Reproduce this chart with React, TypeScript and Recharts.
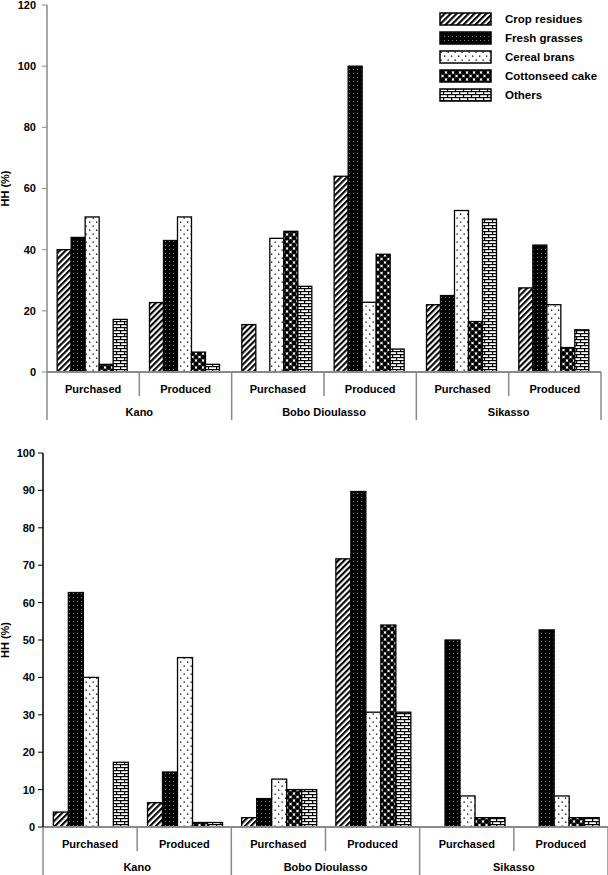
import React from "react";
import { Bar, BarChart, Legend, XAxis, YAxis } from "recharts";

const categories = ["Purchased", "Produced", "Purchased", "Produced", "Purchased", "Produced"];
const cities = ["Kano", "Bobo Dioulasso", "Sikasso"];
const seriesNames = ["Crop residues", "Fresh grasses", "Cereal brans", "Cottonseed cake", "Others"];

// upper panel
const cropTop = [40, 22.7, 15.5, 64, 22, 27.5];
const freshTop = [44, 43, 0, 100, 25, 41.5];
const cerealTop = [50.7, 50.7, 43.7, 22.8, 52.8, 22];
const cottonTop = [2.5, 6.5, 46, 38.5, 16.5, 8];
const othersTop = [17.2, 2.5, 28, 7.5, 50, 13.8];
const ticksTop = [0, 20, 40, 60, 80, 100, 120];

// lower panel
const cropBot = [4, 6.5, 2.5, 71.7, 0, 0];
const freshBot = [62.7, 14.7, 7.6, 89.7, 50, 52.7];
const cerealBot = [40, 45.3, 12.8, 30.7, 8.3, 8.3];
const cottonBot = [0, 1.2, 10, 54, 2.5, 2.5];
const othersBot = [17.3, 1.2, 10, 30.7, 2.5, 2.5];
const ticksBot = [0, 10, 20, 30, 40, 50, 60, 70, 80, 90, 100];

const KEYS = ["crop", "fresh", "cereal", "cotton", "others"];
const FONT = "'Liberation Sans', Arial, sans-serif";
const GREY = "#8a8a8a";

function buildRows(crop: number[], fresh: number[], cereal: number[], cotton: number[], others: number[]) {
  return categories.map((cat, i) => ({
    cat,
    crop: crop[i],
    fresh: fresh[i],
    cereal: cereal[i],
    cotton: cotton[i],
    others: others[i],
  }));
}

const topData = buildRows(cropTop, freshTop, cerealTop, cottonTop, othersTop);
const botData = buildRows(cropBot, freshBot, cerealBot, cottonBot, othersBot);

// hatch fills shared by both panels and the legend
function Patterns() {
  return (
    <svg width={0} height={0} style={{ position: "absolute" }}>
      <defs>
        <pattern id="p-crop" width={4.2} height={4.2} patternUnits="userSpaceOnUse" patternTransform="rotate(45)">
          <rect width={4.2} height={4.2} fill="#fff" />
          <rect width={2.1} height={4.2} fill="#000" />
        </pattern>
        <pattern id="p-fresh" width={4} height={4} patternUnits="userSpaceOnUse">
          <rect width={4} height={4} fill="#000" />
          <rect x={1} y={1} width={0.9} height={0.9} fill="#9a9a9a" />
        </pattern>
        <pattern id="p-cereal" width={7} height={8} patternUnits="userSpaceOnUse">
          <rect width={7} height={8} fill="#fff" />
          <rect x={1.5} y={1.5} width={1.3} height={1.3} fill="#000" />
          <rect x={5} y={5.5} width={1.3} height={1.3} fill="#000" />
        </pattern>
        <pattern id="p-cotton" width={7} height={7} patternUnits="userSpaceOnUse">
          <rect width={7} height={7} fill="#fff" />
          <circle cx={3.5} cy={3.5} r={2.5} fill="#000" />
          <circle cx={0} cy={0} r={2.5} fill="#000" />
          <circle cx={7} cy={0} r={2.5} fill="#000" />
          <circle cx={0} cy={7} r={2.5} fill="#000" />
          <circle cx={7} cy={7} r={2.5} fill="#000" />
        </pattern>
        <pattern id="p-others" width={8} height={6} patternUnits="userSpaceOnUse">
          <rect width={8} height={6} fill="#fff" />
          <rect x={0} y={0} width={8} height={1.2} fill="#000" />
          <rect x={0} y={3} width={8} height={1.2} fill="#000" />
          <rect x={0} y={0} width={1.2} height={3} fill="#000" />
          <rect x={4} y={3} width={1.2} height={3} fill="#000" />
        </pattern>
      </defs>
    </svg>
  );
}

function PatternBar(props: any) {
  const { x, y, width, height, fill } = props;
  if (!height || height <= 0) return null;
  return <rect x={x} y={y} width={width} height={height} fill={fill} stroke="#000" strokeWidth={1.3} />;
}

function LegendBox() {
  return (
    <div style={{ fontFamily: FONT, fontWeight: 700, fontSize: 11.5, color: "#000" }}>
      {seriesNames.map((name, i) => (
        <div key={name} style={{ display: "flex", alignItems: "center", height: 18.8 }}>
          <svg width={54} height={14} style={{ marginRight: 12 }}>
            <rect x={1} y={1} width={51} height={12} fill={`url(#p-${KEYS[i]})`} stroke="#000" strokeWidth={1.5} />
          </svg>
          <span>{name}</span>
        </div>
      ))}
    </div>
  );
}

// category label + city label + separator lines under the axis
function makeTick(step: number, axisY: number, shortLen: number, longLen: number, stroke: string) {
  return function GroupTick(props: any) {
    const { x, index, payload } = props;
    const right = x + step / 2;
    const cityEnd = index % 2 === 1;
    return (
      <g>
        <text x={x} y={axisY + 21} textAnchor="middle" fontFamily={FONT} fontWeight={700} fontSize={11} fill="#000">
          {payload.value}
        </text>
        {index % 2 === 0 && (
          <text x={right} y={axisY + 44} textAnchor="middle" fontFamily={FONT} fontWeight={700} fontSize={11} fill="#000">
            {cities[index / 2]}
          </text>
        )}
        <line x1={right} x2={right} y1={axisY} y2={axisY + (cityEnd ? longLen : shortLen)} stroke={stroke} strokeWidth={1.5} />
        {index === 0 && (
          <line x1={x - step / 2} x2={x - step / 2} y1={axisY} y2={axisY + longLen} stroke={stroke} strokeWidth={1.5} />
        )}
      </g>
    );
  };
}

type PanelProps = {
  data: any[];
  height: number;
  marginTop: number;
  marginRight: number;
  yWidth: number;
  xHeight: number;
  max: number;
  ticks: number[];
  tickMargin: number;
  yStroke: string;
  withLegend?: boolean;
};

function Panel({ data, height, marginTop, marginRight, yWidth, xHeight, max, ticks, tickMargin, yStroke, withLegend }: PanelProps) {
  const W = 608;
  const step = (W - yWidth - marginRight) / categories.length;
  const axisY = height - xHeight;
  const Tick = makeTick(step, axisY, 24, 48, GREY);
  return (
    <BarChart
      width={W}
      height={height}
      data={data}
      margin={{ top: marginTop, right: marginRight, left: 0, bottom: 0 }}
      barCategoryGap="11%"
      barGap={0}
    >
      <XAxis
        dataKey="cat"
        height={xHeight}
        tickLine={false}
        axisLine={{ stroke: GREY, strokeWidth: 1.8 }}
        tick={<Tick />}
        interval={0}
      />
      <YAxis
        width={yWidth}
        domain={[0, max]}
        ticks={ticks}
        interval={0}
        tickSize={5}
        tickMargin={tickMargin}
        tickLine={{ stroke: yStroke }}
        axisLine={{ stroke: yStroke, strokeWidth: 1.5 }}
        tick={{ fill: "#000", fontSize: 11, fontWeight: 700, fontFamily: FONT }}
        label={{
          value: "HH (%)",
          angle: -90,
          position: "insideLeft",
          offset: 5,
          style: { fill: "#000", fontSize: 11, fontWeight: 700, fontFamily: FONT, textAnchor: "middle" },
        }}
      />
      {withLegend && (
        <Legend
          layout="vertical"
          align="center"
          verticalAlign="middle"
          wrapperStyle={{ top: 10, left: 439, width: 170 }}
          content={() => <LegendBox />}
        />
      )}
      {KEYS.map((k, i) => (
        <Bar
          key={k}
          dataKey={k}
          name={seriesNames[i]}
          fill={`url(#p-${k})`}
          shape={<PatternBar />}
          isAnimationActive={false}
        />
      ))}
    </BarChart>
  );
}

export default function App() {
  return (
    <div style={{ position: "absolute", left: 0, top: 0, width: 608, height: 875, background: "#fff", overflow: "hidden" }}>
      <Patterns />
      <div style={{ position: "absolute", left: 0, top: 0 }}>
        <Panel
          data={topData}
          height={422}
          marginTop={5}
          marginRight={7}
          yWidth={47}
          xHeight={50}
          max={120}
          ticks={ticksTop}
          tickMargin={6}
          yStroke={GREY}
          withLegend
        />
      </div>
      <div style={{ position: "absolute", left: 0, top: 440 }}>
        <Panel
          data={botData}
          height={435}
          marginTop={13}
          marginRight={0}
          yWidth={43}
          xHeight={48}
          max={100}
          ticks={ticksBot}
          tickMargin={3}
          yStroke="#000"
        />
      </div>
    </div>
  );
}
